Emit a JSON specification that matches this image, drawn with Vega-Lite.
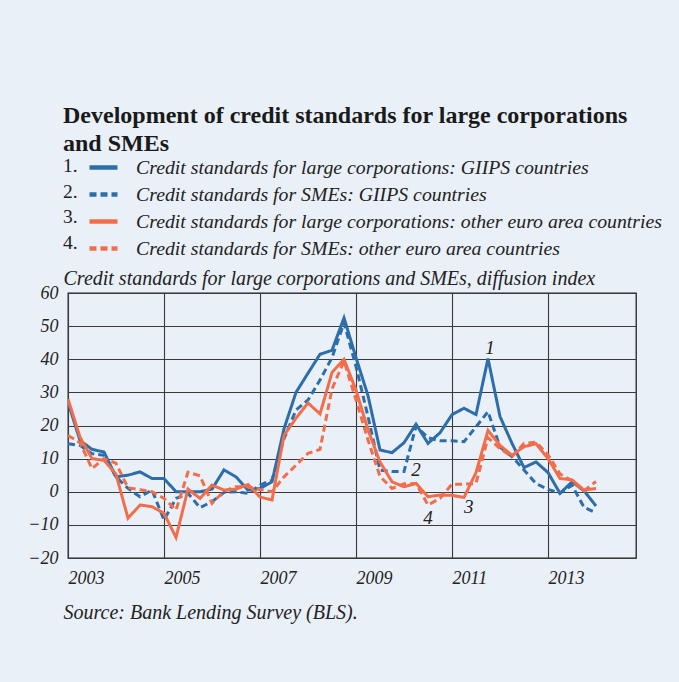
{
  "$schema": "https://vega.github.io/schema/vega-lite/v6.json",
  "width": 568,
  "height": 265,
  "autosize": {"type": "none"},
  "padding": {"left": 68, "top": 293, "right": 43, "bottom": 124},
  "background": "#E9F0F8",
  "title": {
    "text": ["Development of credit standards for large corporations", "and SMEs"],
    "anchor": "start",
    "frame": "group",
    "dx": -5,
    "offset": -5,
    "font": "Liberation Serif",
    "fontSize": 24,
    "fontWeight": "bold",
    "color": "#1a1a1a",
    "lineHeight": 28
  },
  "datasets": {
    "series": [
      {"t": 2003.00, "1": 27, "2": 14.5, "3": 28, "4": 17},
      {"t": 2003.25, "1": 15.5, "2": 14, "3": 16.5, "4": 14.8},
      {"t": 2003.50, "1": 12.8, "2": 11.5, "3": 10, "4": 7},
      {"t": 2003.75, "1": 12, "2": 11, "3": 9.5, "4": 10},
      {"t": 2004.00, "1": 4.5, "2": 4.5, "3": 5.3, "4": 8.6},
      {"t": 2004.25, "1": 5, "2": 1, "3": -8, "4": 1.2},
      {"t": 2004.50, "1": 6, "2": -1.5, "3": -4, "4": 0.6},
      {"t": 2004.75, "1": 4, "2": 0.5, "3": -4.5, "4": 0},
      {"t": 2005.00, "1": 4, "2": -8.5, "3": -6.5, "4": -2},
      {"t": 2005.25, "1": 0, "2": -2, "3": -13.8, "4": -5.5},
      {"t": 2005.50, "1": 0, "2": -0.5, "3": 0.8, "4": 5.9},
      {"t": 2005.75, "1": 0, "2": -4.8, "3": -2, "4": 4.8},
      {"t": 2006.00, "1": 0.8, "2": -3, "3": 2, "4": -3.5},
      {"t": 2006.25, "1": 6.6, "2": -0.2, "3": 0.5, "4": 0.2},
      {"t": 2006.50, "1": 4.5, "2": 0, "3": 0.8, "4": 1.5},
      {"t": 2006.75, "1": 0.5, "2": -0.5, "3": 2.2, "4": 1.5},
      {"t": 2007.00, "1": 1, "2": 2, "3": -1.6, "4": 0.7},
      {"t": 2007.25, "1": 3, "2": 3.5, "3": -2.5, "4": 0},
      {"t": 2007.50, "1": 19, "2": 16, "3": 17, "4": 4.5},
      {"t": 2007.75, "1": 30, "2": 24.7, "3": 22.2, "4": 8},
      {"t": 2008.00, "1": 35.8, "2": 27.7, "3": 26.8, "4": 11.6},
      {"t": 2008.25, "1": 41.5, "2": 33.7, "3": 23.5, "4": 12.8},
      {"t": 2008.50, "1": 42.7, "2": 40.5, "3": 36, "4": 31},
      {"t": 2008.75, "1": 52.5, "2": 51, "3": 40, "4": 39.5},
      {"t": 2009.00, "1": 40.5, "2": 37.8, "3": 30.7, "4": 27.7},
      {"t": 2009.25, "1": 29, "2": 22.7, "3": 18.7, "4": 15.6},
      {"t": 2009.50, "1": 12.6, "2": 6.5, "3": 9, "4": 4.6},
      {"t": 2009.75, "1": 11.8, "2": 6.1, "3": 3, "4": 1},
      {"t": 2010.00, "1": 14.8, "2": 6.1, "3": 1.5, "4": 2.4},
      {"t": 2010.25, "1": 20.4, "2": 19.8, "3": 2.5, "4": 2.5},
      {"t": 2010.50, "1": 14.6, "2": 16.3, "3": -1.5, "4": -4},
      {"t": 2010.75, "1": 17.8, "2": 15.4, "3": -1, "4": -2},
      {"t": 2011.00, "1": 23.3, "2": 15.4, "3": -1.1, "4": 2.3},
      {"t": 2011.25, "1": 25.2, "2": 15.1, "3": -1.7, "4": 2.3},
      {"t": 2011.50, "1": 23.3, "2": 19.6, "3": 5.8, "4": 2.5},
      {"t": 2011.75, "1": 40.2, "2": 24.2, "3": 18.5, "4": 16.3},
      {"t": 2012.00, "1": 22.7, "2": 13.5, "3": 14, "4": 13},
      {"t": 2012.25, "1": 14.6, "2": 10.6, "3": 11, "4": 10.6},
      {"t": 2012.50, "1": 7.3, "2": 6.6, "3": 13.6, "4": 14.6},
      {"t": 2012.75, "1": 9, "2": 2.5, "3": 14.5, "4": 15},
      {"t": 2013.00, "1": 5.8, "2": 0.7, "3": 10, "4": 11.2},
      {"t": 2013.25, "1": -0.5, "2": -0.4, "3": 4, "4": 5.4},
      {"t": 2013.50, "1": 3, "2": 2, "3": 3.6, "4": 3.3},
      {"t": 2013.75, "1": 0.3, "2": -4.7, "3": 0.5, "4": 0.3},
      {"t": 2014.00, "1": -4.3, "2": -6.4, "3": 1, "4": 3.1}
    ],
    "labels": [
      {"x": 2011.79, "y": 43.4, "label": "1"},
      {"x": 2010.25, "y": 6.6, "label": "2"},
      {"x": 2011.35, "y": -4.6, "label": "3"},
      {"x": 2010.5, "y": -7.9, "label": "4"}
    ]
  },
  "layer": [
    {
      "data": {"name": "series"},
      "transform": [{"fold": ["1", "2", "3", "4"], "as": ["s", "v"]}],
      "mark": {"type": "line", "strokeWidth": 3, "clip": true},
      "encoding": {
        "x": {
          "field": "t",
          "type": "quantitative",
          "scale": {"domain": [2003, 2014.833], "nice": false, "zero": false},
          "axis": {
            "values": [2003, 2005, 2007, 2009, 2011, 2013],
            "tickCount": 20,
            "format": "d",
            "labelAlign": "left",
            "labelBaseline": "middle",
            "labelPadding": 20,
            "title": "Source: Bank Lending Survey (BLS).",
            "titleX": -5,
            "titleY": 54,
            "titleAlign": "left",
            "titleBaseline": "middle"
          }
        },
        "y": {
          "field": "v",
          "type": "quantitative",
          "scale": {"domain": [-20, 60], "nice": false},
          "axis": {
            "values": [-20, -10, 0, 10, 20, 30, 40, 50, 60],
            "tickCount": 20,
            "labelOverlap": false,
            "labelPadding": 10,
            "labelBaseline": "middle",
            "title": "Credit standards for large corporations and SMEs, diffusion index",
            "titleAngle": 0,
            "titleX": -5,
            "titleY": -15,
            "titleAlign": "left",
            "titleBaseline": "middle"
          }
        },
        "color": {
          "field": "s",
          "type": "nominal",
          "scale": {"domain": ["1", "2", "3", "4"], "range": ["#2D6EAA", "#2D6EAA", "#F26E4B", "#F26E4B"]},
          "legend": {
            "orient": "none",
            "legendX": -5,
            "legendY": -142,
            "title": ["1.", "2.", "3.", "4."],
            "labelExpr": "datum.label == '1' ? 'Credit standards for large corporations: GIIPS countries' : datum.label == '2' ? 'Credit standards for SMEs: GIIPS countries' : datum.label == '3' ? 'Credit standards for large corporations: other euro area countries' : 'Credit standards for SMEs: other euro area countries'"
          }
        },
        "strokeDash": {
          "field": "s",
          "type": "nominal",
          "scale": {"domain": ["1", "2", "3", "4"], "range": [[1, 0], [7, 4], [1, 0], [7, 4]]},
          "legend": {
            "orient": "none",
            "legendX": -5,
            "legendY": -142,
            "title": ["1.", "2.", "3.", "4."],
            "labelExpr": "datum.label == '1' ? 'Credit standards for large corporations: GIIPS countries' : datum.label == '2' ? 'Credit standards for SMEs: GIIPS countries' : datum.label == '3' ? 'Credit standards for large corporations: other euro area countries' : 'Credit standards for SMEs: other euro area countries'"
          }
        }
      }
    },
    {
      "data": {"name": "labels"},
      "mark": {"type": "text", "font": "Liberation Serif", "fontStyle": "italic", "fontSize": 19, "color": "#222222"},
      "encoding": {
        "x": {"field": "x", "type": "quantitative"},
        "y": {"field": "y", "type": "quantitative"},
        "text": {"field": "label", "type": "nominal"}
      }
    }
  ],
  "config": {
    "view": {"stroke": "#222222", "strokeWidth": 1.3},
    "axis": {
      "domain": false,
      "ticks": false,
      "grid": true,
      "gridColor": "#3a3a3a",
      "gridWidth": 1.1,
      "gridOpacity": 1,
      "labelFont": "Liberation Serif",
      "labelFontStyle": "italic",
      "labelFontSize": 18,
      "labelColor": "#222222",
      "titleFont": "Liberation Serif",
      "titleFontStyle": "italic",
      "titleFontWeight": "normal",
      "titleFontSize": 20,
      "titleColor": "#222222"
    },
    "legend": {
      "padding": 0,
      "titleOrient": "left",
      "titleAnchor": "middle",
      "titleFont": "Liberation Serif",
      "titleFontSize": 19.5,
      "titleFontWeight": "normal",
      "titleColor": "#222222",
      "titleLineHeight": 25.5,
      "titleBaseline": "middle",
      "titlePadding": 9,
      "symbolType": "stroke",
      "symbolSize": 784,
      "symbolStrokeWidth": 4.5,
      "labelFont": "Liberation Serif",
      "labelFontStyle": "italic",
      "labelFontSize": 19.8,
      "labelColor": "#222222",
      "labelOffset": 16,
      "labelLimit": 0,
      "rowPadding": -2.5
    }
  }
}
